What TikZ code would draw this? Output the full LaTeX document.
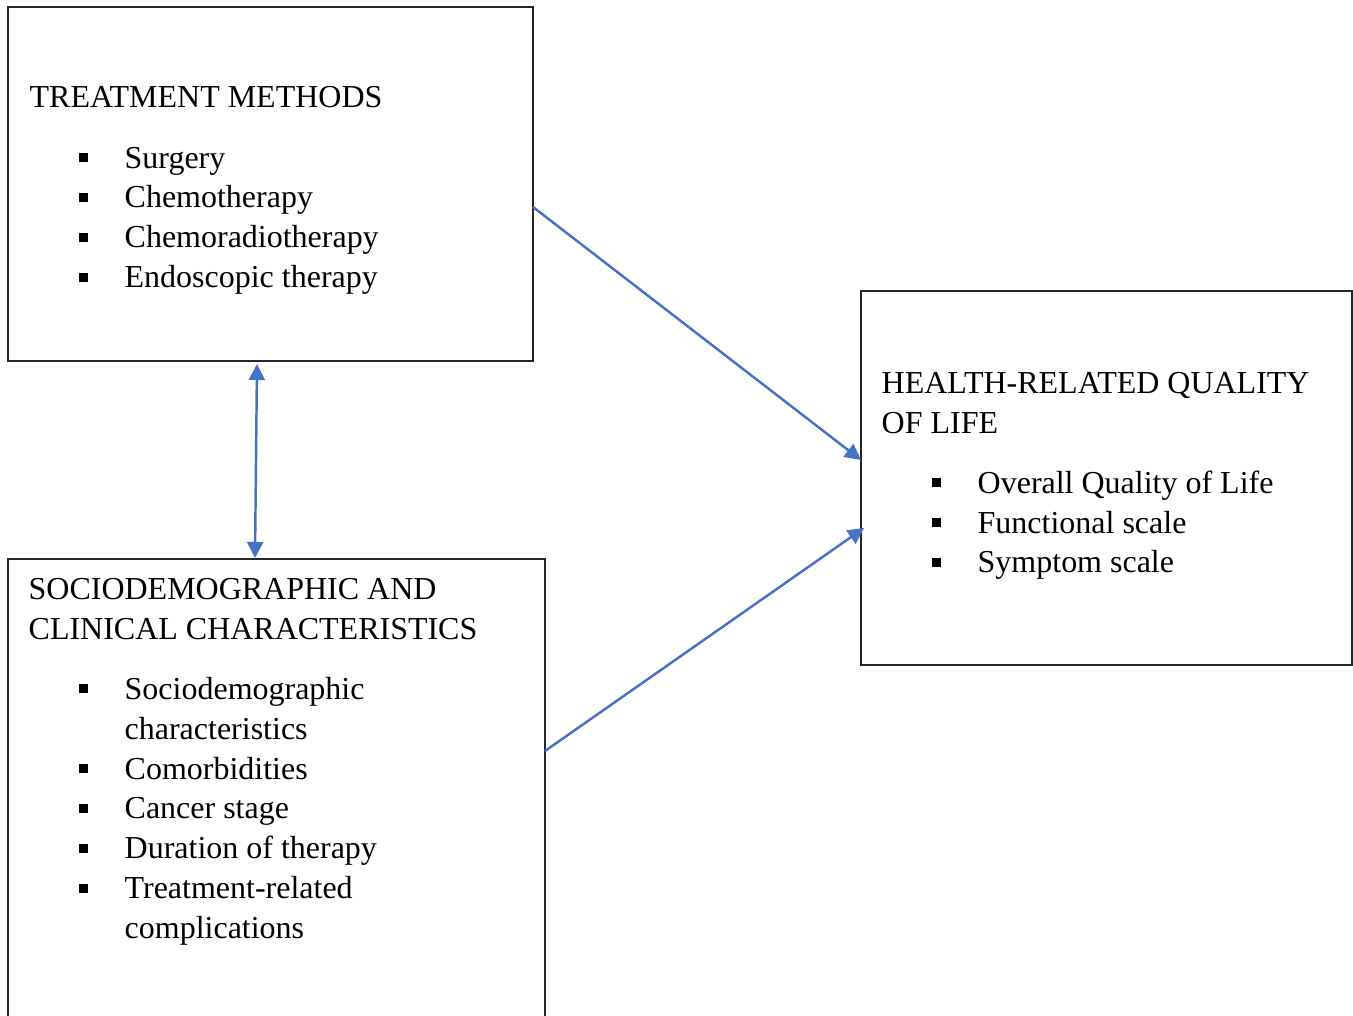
\documentclass[tikz,border=0pt]{standalone}
\usepackage{fontspec}
\setmainfont{Liberation Serif}
\usetikzlibrary{arrows.meta}
\definecolor{wordblue}{HTML}{4472C4}
\newcommand{\sqbul}{\raisebox{0.6mm}{\rule{0.9mm}{0.9mm}}}

\begin{document}
\begin{tikzpicture}[
    x=0.1mm, y=-0.1mm,
    box/.style={
      rectangle, draw=black!85, line width=0.45pt,
      inner sep=0pt, outer sep=0pt, anchor=north west
    },
    txt/.style={
      anchor=base west, inner sep=0pt,
      font=\fontsize{9.1pt}{11.38pt}\selectfont
    },
    link/.style={
      draw=wordblue, line width=0.7pt,
      -{Triangle[length=1.6mm, width=1.6mm]}
    }
    ]
  \clip (0,0) rectangle (1353,1015);

  % boxes
  \node[box, minimum width=52.5mm, minimum height=35.4mm] (treat) at (8,7) {};
  \node[box, minimum width=53.7mm, minimum height=46.1mm] (socio) at (8,559) {};
  \node[box, minimum width=49.1mm, minimum height=37.4mm] (hrql) at (861,291) {};

  % treatment methods
  \node[txt] (treattitle) at (29,107) {TREATMENT METHODS};
  \node[txt] (treatlist) at (78,168) {%
    \begin{tabular}[t]{@{}p{4.6mm}@{}l@{}}
      \sqbul & Surgery\\
      \sqbul & Chemotherapy\\
      \sqbul & Chemoradiotherapy\\
      \sqbul & Endoscopic therapy
    \end{tabular}};

  % sociodemographic and clinical
  \node[txt] (sociotitle) at (28,599) {%
    \begin{tabular}[t]{@{}l@{}}
      SOCIODEMOGRAPHIC AND\\
      CLINICAL CHARACTERISTICS
    \end{tabular}};
  \node[txt] (sociolist) at (78,699) {%
    \begin{tabular}[t]{@{}p{4.6mm}@{}l@{}}
      \sqbul & Sociodemographic\\
             & characteristics\\
      \sqbul & Comorbidities\\
      \sqbul & Cancer stage\\
      \sqbul & Duration of therapy\\
      \sqbul & Treatment-related\\
             & complications
    \end{tabular}};

  % quality of life
  \node[txt] (hrqltitle) at (881,393) {%
    \begin{tabular}[t]{@{}l@{}}
      HEALTH-RELATED QUALITY\\
      OF LIFE
    \end{tabular}};
  \node[txt] (hrqllist) at (931,493) {%
    \begin{tabular}[t]{@{}p{4.6mm}@{}l@{}}
      \sqbul & Overall Quality of Life\\
      \sqbul & Functional scale\\
      \sqbul & Symptom scale
    \end{tabular}};

  % connectors
  \draw[link, {Triangle[length=1.6mm, width=1.6mm]}-{Triangle[length=1.6mm, width=1.6mm]}]
    ([xshift=-1.35mm, yshift=-0.3mm]treat.south) -- ([xshift=-2.15mm, yshift=0.1mm]socio.north);
  \draw[link] ([yshift=-2.3mm]treat.east) -- ([yshift=1.8mm]hrql.west);
  \draw[link] ([yshift=3.85mm]socio.east) -- ([xshift=0.3mm, yshift=-5mm]hrql.west);
\end{tikzpicture}
\end{document}
